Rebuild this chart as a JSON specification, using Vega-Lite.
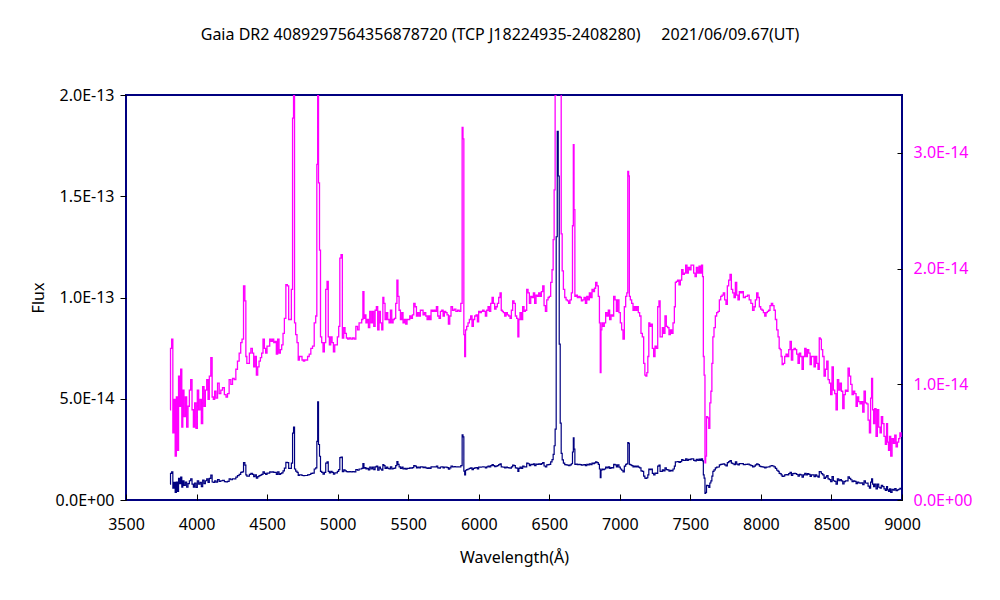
{
"$schema": "https://vega.github.io/schema/vega-lite/v6.json",
"autosize": "none",
"width": 776,
"height": 405,
"padding": {"left": 126, "top": 95, "right": 98, "bottom": 100},
"background": "white",
"title": {"text": "Gaia DR2 4089297564356878720 (TCP J18224935-2408280)\u00a0\u00a0\u00a0\u00a0 2021/06/09.67(UT)", "anchor": "middle", "dx": -14, "offset": 44, "font": "Noto Sans", "fontSize": 16, "fontWeight": "normal", "color": "#000000"},
"config": {"view": {"stroke": "#000080", "strokeWidth": 2}, "font": "Noto Sans"},
"data": {"values": [
{"w":3812,"f":0.78},{"w":3819,"f":1.31},{"w":3828,"f":1.39},{"w":3836,"f":0.58},{"w":3845,"f":0.87},{"w":3852,"f":0.38},{"w":3862,"f":0.89},{"w":3869,"f":0.43},{"w":3876,"f":1.07},{"w":3883,"f":0.81},{"w":3892,"f":1.13},{"w":3899,"f":0.63},{"w":3906,"f":0.95},{"w":3916,"f":0.72},{"w":3925,"f":0.89},{"w":3935,"f":0.63},{"w":3944,"f":0.81},{"w":3954,"f":0.95},{"w":3963,"f":1.04},{"w":3973,"f":0.78},{"w":3982,"f":0.63},{"w":3991,"f":0.84},{"w":4001,"f":0.62},{"w":4010,"f":0.95},{"w":4020,"f":0.78},{"w":4029,"f":0.87},{"w":4039,"f":0.66},{"w":4048,"f":0.98},{"w":4058,"f":0.81},{"w":4067,"f":0.95},{"w":4077,"f":1.04},{"w":4086,"f":0.87},{"w":4095,"f":1.07},{"w":4107,"f":1.23},{"w":4114,"f":0.89},{"w":4124,"f":0.87},{"w":4133,"f":0.94},{"w":4143,"f":0.88},{"w":4155,"f":1.01},{"w":4166,"f":0.92},{"w":4178,"f":0.95},{"w":4190,"f":0.97},{"w":4204,"f":0.91},{"w":4214,"f":0.89},{"w":4225,"f":0.92},{"w":4237,"f":1.04},{"w":4249,"f":1.0},{"w":4261,"f":1.05},{"w":4273,"f":1.04},{"w":4284,"f":1.13},{"w":4296,"f":1.2},{"w":4308,"f":1.27},{"w":4318,"f":1.36},{"w":4327,"f":1.39},{"w":4339,"f":1.85},{"w":4346,"f":1.72},{"w":4353,"f":1.24},{"w":4360,"f":1.18},{"w":4370,"f":1.18},{"w":4379,"f":1.27},{"w":4391,"f":1.31},{"w":4400,"f":1.27},{"w":4410,"f":1.15},{"w":4419,"f":1.24},{"w":4429,"f":1.08},{"w":4438,"f":1.15},{"w":4448,"f":1.2},{"w":4457,"f":1.23},{"w":4466,"f":1.27},{"w":4476,"f":1.39},{"w":4485,"f":1.31},{"w":4495,"f":1.27},{"w":4504,"f":1.33},{"w":4514,"f":1.33},{"w":4523,"f":1.39},{"w":4533,"f":1.37},{"w":4542,"f":1.39},{"w":4552,"f":1.36},{"w":4561,"f":1.37},{"w":4570,"f":1.26},{"w":4580,"f":1.39},{"w":4589,"f":1.27},{"w":4599,"f":1.3},{"w":4608,"f":1.34},{"w":4618,"f":1.44},{"w":4627,"f":1.57},{"w":4639,"f":1.86},{"w":4648,"f":1.85},{"w":4658,"f":1.56},{"w":4667,"f":1.56},{"w":4677,"f":1.82},{"w":4684,"f":3.3},{"w":4691,"f":3.6},{"w":4698,"f":1.53},{"w":4707,"f":1.43},{"w":4717,"f":1.36},{"w":4724,"f":1.21},{"w":4733,"f":1.24},{"w":4743,"f":1.24},{"w":4752,"f":1.21},{"w":4762,"f":1.2},{"w":4771,"f":1.21},
{"w":4781,"f":1.21},{"w":4793,"f":1.24},{"w":4804,"f":1.26},{"w":4816,"f":1.31},{"w":4828,"f":1.33},{"w":4840,"f":1.53},{"w":4849,"f":1.59},{"w":4856,"f":2.9},{"w":4861,"f":4.85},{"w":4868,"f":2.74},{"w":4875,"f":2.16},{"w":4882,"f":1.41},{"w":4892,"f":1.36},{"w":4901,"f":1.28},{"w":4911,"f":1.36},{"w":4920,"f":1.82},{"w":4930,"f":1.89},{"w":4937,"f":1.41},{"w":4946,"f":1.34},{"w":4956,"f":1.41},{"w":4965,"f":1.36},{"w":4975,"f":1.28},{"w":4984,"f":1.34},{"w":4993,"f":1.34},{"w":5003,"f":1.41},{"w":5012,"f":1.5},{"w":5019,"f":2.09},{"w":5029,"f":2.12},{"w":5038,"f":1.4},{"w":5048,"f":1.49},{"w":5057,"f":1.44},{"w":5067,"f":1.4},{"w":5076,"f":1.39},{"w":5088,"f":1.4},{"w":5100,"f":1.39},{"w":5112,"f":1.4},{"w":5123,"f":1.39},{"w":5135,"f":1.5},{"w":5147,"f":1.47},{"w":5157,"f":1.53},{"w":5166,"f":1.53},{"w":5175,"f":1.56},{"w":5183,"f":1.8},{"w":5190,"f":1.57},{"w":5197,"f":1.6},{"w":5204,"f":1.53},{"w":5213,"f":1.56},{"w":5223,"f":1.49},{"w":5232,"f":1.63},{"w":5242,"f":1.53},{"w":5251,"f":1.63},{"w":5261,"f":1.5},{"w":5270,"f":1.64},{"w":5279,"f":1.67},{"w":5289,"f":1.47},{"w":5298,"f":1.63},{"w":5308,"f":1.53},{"w":5317,"f":1.47},{"w":5324,"f":1.75},{"w":5331,"f":1.7},{"w":5341,"f":1.56},{"w":5350,"f":1.62},{"w":5360,"f":1.56},{"w":5369,"f":1.53},{"w":5379,"f":1.64},{"w":5388,"f":1.53},{"w":5398,"f":1.56},{"w":5407,"f":1.57},{"w":5416,"f":1.7},{"w":5424,"f":1.9},{"w":5431,"f":1.76},{"w":5440,"f":1.64},{"w":5450,"f":1.56},{"w":5459,"f":1.62},{"w":5468,"f":1.53},{"w":5478,"f":1.56},{"w":5487,"f":1.52},{"w":5497,"f":1.56},{"w":5506,"f":1.56},{"w":5516,"f":1.59},{"w":5525,"f":1.57},{"w":5535,"f":1.6},{"w":5544,"f":1.7},{"w":5554,"f":1.67},{"w":5563,"f":1.59},{"w":5572,"f":1.62},{"w":5582,"f":1.59},{"w":5591,"f":1.64},{"w":5601,"f":1.64},{"w":5610,"f":1.6},{"w":5620,"f":1.62},{"w":5629,"f":1.59},{"w":5639,"f":1.56},{"w":5648,"f":1.59},{"w":5657,"f":1.56},{"w":5667,"f":1.64},{"w":5676,"f":1.63},{"w":5686,"f":1.64},{"w":5695,"f":1.63},{"w":5705,"f":1.67},{"w":5714,"f":1.59},{"w":5724,"f":1.57},{"w":5733,"f":1.63},{"w":5743,"f":1.64},{"w":5752,"f":1.59},{"w":5761,"f":1.63},{"w":5771,"f":1.62},{"w":5780,"f":1.6},{"w":5790,"f":1.52},
{"w":5799,"f":1.59},{"w":5808,"f":1.67},{"w":5820,"f":1.64},{"w":5832,"f":1.65},{"w":5844,"f":1.63},{"w":5856,"f":1.64},{"w":5867,"f":1.63},{"w":5879,"f":1.7},{"w":5886,"f":3.22},{"w":5891,"f":3.12},{"w":5898,"f":1.43},{"w":5903,"f":1.24},{"w":5910,"f":1.47},{"w":5919,"f":1.5},{"w":5929,"f":1.53},{"w":5938,"f":1.56},{"w":5948,"f":1.59},{"w":5957,"f":1.5},{"w":5967,"f":1.56},{"w":5976,"f":1.59},{"w":5986,"f":1.6},{"w":5995,"f":1.54},{"w":6004,"f":1.63},{"w":6014,"f":1.62},{"w":6023,"f":1.63},{"w":6033,"f":1.64},{"w":6042,"f":1.63},{"w":6052,"f":1.59},{"w":6061,"f":1.64},{"w":6071,"f":1.67},{"w":6080,"f":1.63},{"w":6090,"f":1.7},{"w":6099,"f":1.75},{"w":6108,"f":1.7},{"w":6118,"f":1.65},{"w":6127,"f":1.67},{"w":6137,"f":1.7},{"w":6146,"f":1.75},{"w":6156,"f":1.79},{"w":6163,"f":1.64},{"w":6170,"f":1.63},{"w":6179,"f":1.62},{"w":6189,"f":1.59},{"w":6198,"f":1.62},{"w":6208,"f":1.6},{"w":6217,"f":1.59},{"w":6227,"f":1.57},{"w":6236,"f":1.64},{"w":6245,"f":1.72},{"w":6255,"f":1.7},{"w":6264,"f":1.59},{"w":6274,"f":1.57},{"w":6281,"f":1.41},{"w":6288,"f":1.56},{"w":6297,"f":1.62},{"w":6307,"f":1.56},{"w":6316,"f":1.67},{"w":6326,"f":1.63},{"w":6335,"f":1.64},{"w":6345,"f":1.82},{"w":6354,"f":1.79},{"w":6364,"f":1.7},{"w":6373,"f":1.76},{"w":6383,"f":1.75},{"w":6392,"f":1.79},{"w":6401,"f":1.7},{"w":6411,"f":1.77},{"w":6420,"f":1.76},{"w":6430,"f":1.79},{"w":6439,"f":1.76},{"w":6449,"f":1.8},{"w":6458,"f":1.85},{"w":6468,"f":1.68},{"w":6477,"f":1.63},{"w":6487,"f":1.73},{"w":6496,"f":1.75},{"w":6505,"f":1.76},{"w":6515,"f":1.88},{"w":6524,"f":1.99},{"w":6531,"f":2.25},{"w":6538,"f":2.68},{"w":6545,"f":3.5},{"w":6553,"f":13.0},{"w":6560,"f":18.2},{"w":6567,"f":16.0},{"w":6574,"f":7.7},{"w":6581,"f":3.8},{"w":6588,"f":2.3},{"w":6595,"f":1.98},{"w":6605,"f":1.82},{"w":6614,"f":1.75},{"w":6624,"f":1.73},{"w":6633,"f":1.72},{"w":6642,"f":1.7},{"w":6652,"f":1.73},{"w":6661,"f":1.79},{"w":6668,"f":2.37},{"w":6673,"f":3.07},{"w":6678,"f":2.51},{"w":6685,"f":1.76},{"w":6694,"f":1.77},{"w":6704,"f":1.75},{"w":6713,"f":1.76},{"w":6723,"f":1.75},{"w":6732,"f":1.72},{"w":6742,"f":1.73},{"w":6751,"f":1.75},{"w":6761,"f":1.7},{"w":6770,"f":1.76},{"w":6779,"f":1.73},{"w":6789,"f":1.79},{"w":6798,"f":1.75},{"w":6808,"f":1.82},{"w":6817,"f":1.8},
{"w":6824,"f":1.83},{"w":6833,"f":1.88},{"w":6843,"f":1.85},{"w":6852,"f":1.76},{"w":6859,"f":1.53},{"w":6864,"f":1.1},{"w":6869,"f":1.47},{"w":6876,"f":1.53},{"w":6885,"f":1.5},{"w":6895,"f":1.53},{"w":6904,"f":1.62},{"w":6914,"f":1.59},{"w":6923,"f":1.64},{"w":6933,"f":1.56},{"w":6942,"f":1.6},{"w":6952,"f":1.59},{"w":6961,"f":1.76},{"w":6971,"f":1.73},{"w":6980,"f":1.63},{"w":6989,"f":1.73},{"w":6999,"f":1.62},{"w":7008,"f":1.53},{"w":7018,"f":1.47},{"w":7027,"f":1.39},{"w":7037,"f":1.67},{"w":7046,"f":1.76},{"w":7053,"f":1.79},{"w":7060,"f":2.84},{"w":7065,"f":2.8},{"w":7070,"f":1.76},{"w":7079,"f":1.73},{"w":7089,"f":1.7},{"w":7098,"f":1.64},{"w":7108,"f":1.67},{"w":7117,"f":1.64},{"w":7126,"f":1.67},{"w":7136,"f":1.62},{"w":7145,"f":1.59},{"w":7155,"f":1.44},{"w":7164,"f":1.41},{"w":7174,"f":1.18},{"w":7181,"f":1.08},{"w":7188,"f":1.07},{"w":7195,"f":1.1},{"w":7202,"f":1.24},{"w":7209,"f":1.53},{"w":7216,"f":1.5},{"w":7226,"f":1.52},{"w":7235,"f":1.31},{"w":7245,"f":1.24},{"w":7254,"f":1.33},{"w":7264,"f":1.31},{"w":7273,"f":1.67},{"w":7282,"f":1.72},{"w":7289,"f":1.41},{"w":7297,"f":1.41},{"w":7306,"f":1.49},{"w":7315,"f":1.44},{"w":7325,"f":1.59},{"w":7334,"f":1.5},{"w":7344,"f":1.49},{"w":7353,"f":1.43},{"w":7363,"f":1.47},{"w":7372,"f":1.44},{"w":7382,"f":1.53},{"w":7391,"f":1.67},{"w":7396,"f":1.88},{"w":7405,"f":1.89},{"w":7415,"f":1.9},{"w":7424,"f":1.86},{"w":7434,"f":1.9},{"w":7443,"f":1.99},{"w":7453,"f":1.95},{"w":7462,"f":1.96},{"w":7471,"f":2.03},{"w":7481,"f":1.96},{"w":7490,"f":2.01},{"w":7500,"f":1.99},{"w":7509,"f":2.03},{"w":7519,"f":2.03},{"w":7528,"f":1.96},{"w":7538,"f":1.93},{"w":7547,"f":2.01},{"w":7557,"f":1.96},{"w":7566,"f":2.02},{"w":7575,"f":1.96},{"w":7583,"f":2.03},{"w":7590,"f":1.93},{"w":7594,"f":1.24},{"w":7601,"f":1.08},{"w":7606,"f":0.32},{"w":7611,"f":0.38},{"w":7618,"f":0.72},{"w":7627,"f":0.71},{"w":7634,"f":0.62},{"w":7642,"f":0.84},{"w":7649,"f":0.94},{"w":7656,"f":1.18},{"w":7663,"f":1.41},{"w":7672,"f":1.49},{"w":7682,"f":1.59},{"w":7691,"f":1.62},{"w":7701,"f":1.63},{"w":7710,"f":1.73},{"w":7720,"f":1.76},{"w":7729,"f":1.77},{"w":7738,"f":1.79},{"w":7748,"f":1.73},{"w":7757,"f":1.69},{"w":7767,"f":1.85},{"w":7776,"f":1.9},{"w":7786,"f":1.95},{"w":7795,"f":1.82},{"w":7805,"f":1.79},{"w":7814,"f":1.75},{"w":7824,"f":1.88},{"w":7833,"f":1.77},{"w":7842,"f":1.73},{"w":7852,"f":1.8},{"w":7861,"f":1.79},{"w":7871,"f":1.8},{"w":7880,"f":1.75},
{"w":7899,"f":1.76},{"w":7911,"f":1.77},{"w":7923,"f":1.73},{"w":7935,"f":1.7},{"w":7947,"f":1.64},{"w":7956,"f":1.67},{"w":7965,"f":1.73},{"w":7975,"f":1.79},{"w":7984,"f":1.75},{"w":7994,"f":1.67},{"w":8003,"f":1.65},{"w":8013,"f":1.64},{"w":8022,"f":1.62},{"w":8032,"f":1.59},{"w":8041,"f":1.62},{"w":8050,"f":1.63},{"w":8060,"f":1.64},{"w":8069,"f":1.68},{"w":8079,"f":1.7},{"w":8088,"f":1.68},{"w":8098,"f":1.64},{"w":8107,"f":1.56},{"w":8117,"f":1.47},{"w":8126,"f":1.41},{"w":8133,"f":1.31},{"w":8140,"f":1.3},{"w":8147,"f":1.24},{"w":8154,"f":1.17},{"w":8164,"f":1.18},{"w":8173,"f":1.24},{"w":8183,"f":1.26},{"w":8192,"f":1.24},{"w":8202,"f":1.3},{"w":8211,"f":1.37},{"w":8221,"f":1.21},{"w":8230,"f":1.3},{"w":8240,"f":1.31},{"w":8249,"f":1.3},{"w":8258,"f":1.26},{"w":8268,"f":1.18},{"w":8277,"f":1.27},{"w":8287,"f":1.24},{"w":8296,"f":1.13},{"w":8306,"f":1.24},{"w":8315,"f":1.31},{"w":8325,"f":1.24},{"w":8334,"f":1.3},{"w":8344,"f":1.27},{"w":8353,"f":1.17},{"w":8362,"f":1.24},{"w":8372,"f":1.24},{"w":8381,"f":1.15},{"w":8391,"f":1.24},{"w":8400,"f":1.18},{"w":8410,"f":1.13},{"w":8417,"f":1.4},{"w":8424,"f":1.39},{"w":8433,"f":1.3},{"w":8443,"f":1.24},{"w":8452,"f":1.07},{"w":8462,"f":1.13},{"w":8471,"f":1.2},{"w":8481,"f":1.04},{"w":8490,"f":1.01},{"w":8499,"f":0.91},{"w":8509,"f":1.15},{"w":8518,"f":0.95},{"w":8528,"f":0.92},{"w":8537,"f":0.78},{"w":8547,"f":1.04},{"w":8556,"f":0.95},{"w":8566,"f":1.01},{"w":8575,"f":0.94},{"w":8585,"f":0.79},{"w":8594,"f":0.91},{"w":8603,"f":0.95},{"w":8613,"f":0.94},{"w":8622,"f":1.14},{"w":8632,"f":1.07},{"w":8641,"f":1.0},{"w":8651,"f":0.91},{"w":8660,"f":0.94},{"w":8670,"f":0.92},{"w":8679,"f":0.81},{"w":8688,"f":0.89},{"w":8698,"f":0.85},{"w":8707,"f":0.83},{"w":8717,"f":0.85},{"w":8726,"f":0.76},{"w":8736,"f":0.94},{"w":8745,"f":0.84},{"w":8755,"f":0.83},{"w":8764,"f":0.69},{"w":8774,"f":0.58},{"w":8781,"f":0.88},{"w":8788,"f":1.05},{"w":8795,"f":0.78},{"w":8802,"f":0.66},{"w":8811,"f":0.79},{"w":8821,"f":0.55},{"w":8830,"f":0.78},{"w":8840,"f":0.63},{"w":8849,"f":0.58},{"w":8858,"f":0.72},{"w":8868,"f":0.66},{"w":8877,"f":0.55},{"w":8887,"f":0.48},{"w":8894,"f":0.66},{"w":8901,"f":0.5},{"w":8908,"f":0.43},{"w":8915,"f":0.55},{"w":8925,"f":0.38},{"w":8934,"f":0.53},{"w":8944,"f":0.49},{"w":8953,"f":0.56},{"w":8963,"f":0.46},{"w":8972,"f":0.5},{"w":8981,"f":0.53},{"w":8989,"f":0.58},{"w":8998,"f":0.55}
]},
"encoding": {
  "x": {"field": "w", "type": "quantitative", "scale": {"domain": [3500, 9000], "nice": false, "zero": false},
    "axis": {"title": "Wavelength(Å)", "values": [3500,4000,4500,5000,5500,6000,6500,7000,7500,8000,8500,9000], "format": "d", "grid": false, "domain": false, "tickSize": -6, "tickColor": "#000000", "labelPadding": 22, "labelFontSize": 16, "labelFont": "Noto Sans", "labelColor": "#000000", "titleFont": "Noto Sans", "titleFontSize": 16, "titleFontWeight": "normal", "titleColor": "#000000", "titlePadding": 17, "labelFlush": false}}
},
"layer": [
  {"mark": {"type": "line", "color": "#FF00FF", "strokeWidth": 1.3, "interpolate": "step", "clip": true},
   "encoding": {"y": {"field": "f", "type": "quantitative", "scale": {"domain": [0, 3.5], "nice": false},
     "axis": {"orient": "right", "title": null, "values": [0,1,2,3], "grid": false, "domain": false, "tickSize": -5, "tickColor": "#000000", "labelPadding": 16, "labelFontSize": 16, "labelFont": "Noto Sans", "labelColor": "#FF00FF", "labelFlush": false,
       "labelExpr": "datum.value == 0 ? '0.0E+00' : format(datum.value, '.1f') + 'E-14'"}}}},
  {"mark": {"type": "line", "color": "#000080", "strokeWidth": 1.2, "interpolate": "step", "clip": true},
   "encoding": {"y": {"field": "f", "type": "quantitative", "scale": {"domain": [0, 20], "nice": false},
     "axis": {"orient": "left", "title": "Flux", "values": [0,5,10,15,20], "grid": false, "domain": false, "tickSize": 6, "tickColor": "#000000", "labelPadding": 6, "labelFontSize": 16, "labelFont": "Noto Sans", "labelColor": "#000000", "labelFlush": false, "titleFont": "Noto Sans", "titleFontSize": 16, "titleFontWeight": "normal", "titleColor": "#000000", "titlePadding": 9,
       "labelExpr": "datum.value == 0 ? '0.0E+00' : datum.value >= 10 ? format(datum.value / 10, '.1f') + 'E-13' : format(datum.value, '.1f') + 'E-14'"}}}}
],
"resolve": {"scale": {"y": "independent"}}
}
